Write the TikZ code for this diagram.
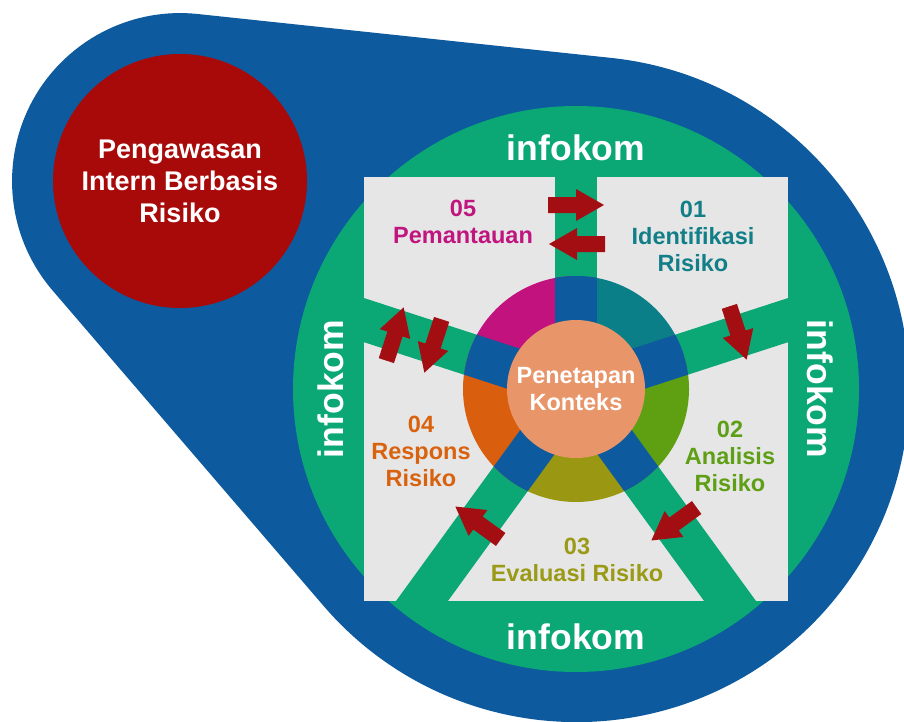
\documentclass[tikz,border=0pt]{standalone}
\usepackage{fontspec}
\setmainfont{Liberation Sans}

\definecolor{blobblue}{RGB}{13,90,158}
\definecolor{spokegreen}{RGB}{11,168,117}
\definecolor{panelgray}{RGB}{230,230,230}
\definecolor{circred}{RGB}{168,10,10}
\definecolor{arrowred}{RGB}{163,14,18}
\definecolor{ringmag}{RGB}{193,18,126}
\definecolor{ringteal}{RGB}{11,127,135}
\definecolor{ringgreen}{RGB}{94,160,18}
\definecolor{ringolive}{RGB}{154,152,18}
\definecolor{ringorange}{RGB}{217,95,14}
\definecolor{peach}{RGB}{232,149,106}
\definecolor{lab05}{RGB}{192,21,127}
\definecolor{lab01}{RGB}{18,127,136}
\definecolor{lab02}{RGB}{94,159,21}
\definecolor{lab03}{RGB}{154,154,22}
\definecolor{lab04}{RGB}{217,98,15}

\tikzset{
  infokom/.style={text=white,font=\fontsize{35.5}{40}\selectfont\bfseries},
  steplabel/.style={align=center,font=\fontsize{23.5}{27}\selectfont\bfseries},
  spoke/.style={line width=42pt,draw=spokegreen},
  flowarrow/.pic={\fill[arrowred] (-28pt,-8pt) -- (0pt,-8pt) -- (0pt,-16pt) -- (28pt,0pt)
    -- (0pt,16pt) -- (0pt,8pt) -- (-28pt,8pt) -- cycle;}
}

\begin{document}
\begin{tikzpicture}[x=1pt,y=-1pt]
\useasboundingbox (0,0) rectangle (904,722);
\clip (0,0) rectangle (904,722);

\fill[blobblue] (52.5,290.4) arc[start angle=220.6,end angle=84,radius=168pt] -- (611.1,57.9)
  arc[start angle=84,end angle=-139.4,radius=333pt] -- cycle;

\node[circle,fill=circred,minimum size=254pt,inner sep=0pt,align=center,text=white,
  font=\fontsize{27}{32}\selectfont\bfseries] (pengawasan) at (180,181) {Pengawasan\\Intern Berbasis\\Risiko};

\fill[spokegreen] (576,389) circle (283pt);
\fill[panelgray] (364,177) rectangle (788,601);

\begin{scope}[shift={(576,389)}]
\foreach \a in {90,18,-54,-126,162}
  \draw[spoke] (0,0) -- (\a:278pt);
\foreach \a/\c in {18/ringteal,90/ringmag,162/ringorange,234/ringolive,306/ringgreen}
  \fill[\c] (0,0) -- (\a:113pt) arc[start angle=\a,delta angle=72,radius=113pt] -- cycle;
\begin{scope}
\clip (0,0) circle (113pt);
\foreach \a in {90,18,-54,-126,162}
  \draw[spoke,draw=blobblue] (0,0) -- (\a:120pt);
\end{scope}
\node[circle,fill=peach,minimum size=138pt,inner sep=0pt,align=center,text=white,
  font=\fontsize{23.5}{27}\selectfont\bfseries] (konteks) at (0,0) {Penetapan\\Konteks};
\end{scope}

\node[infokom] (infotop) at (576,148) {infokom};
\node[infokom] (infobottom) at (576,637) {infokom};
\node[infokom,rotate=90] (infoleft) at (331,389) {infokom};
\node[infokom,rotate=-90] (inforight) at (820,389) {infokom};

\node[steplabel,text=lab05] (pemantauan) at (463,222) {05\\Pemantauan};
\node[steplabel,text=lab01] (identifikasi) at (693,236) {01\\Identifikasi\\Risiko};
\node[steplabel,text=lab02] (analisis) at (730,456) {02\\Analisis\\Risiko};
\node[steplabel,text=lab03] (evaluasi) at (577,560) {03\\Evaluasi Risiko};
\node[steplabel,text=lab04] (respons) at (421,451) {04\\Respons\\Risiko};

\pic[rotate=0] at (576,205) {flowarrow};
\pic[rotate=180] at (577,244) {flowarrow};
\pic[rotate=72] at (395,334) {flowarrow};
\pic[rotate=-108] at (433,346) {flowarrow};
\pic[rotate=-72] at (738,333) {flowarrow};
\pic[rotate=216] at (674,524) {flowarrow};
\pic[rotate=144] at (478,523) {flowarrow};
\end{tikzpicture}
\end{document}
